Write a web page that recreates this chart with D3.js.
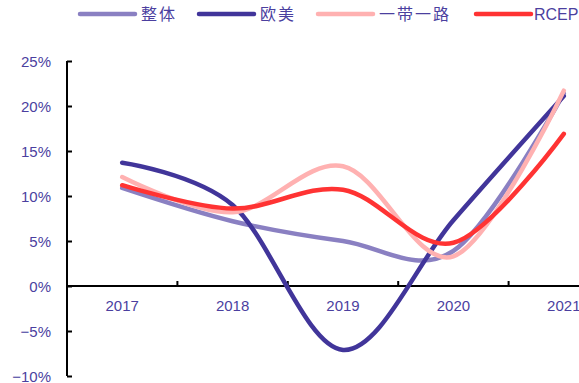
<!DOCTYPE html>
<html><head><meta charset="utf-8">
<script src="https://cdn.jsdelivr.net/npm/d3@7"></script>
<style>body{margin:0;background:#fff;overflow:hidden}svg{display:block}</style>
</head><body>
<svg id="c" width="579" height="383"></svg>
<script>
const categories = ["2017","2018","2019","2020","2021"];
const seriesNames = ["整体","欧美","一带一路","RCEP"];
const seriesColors = ["#8a80c2","#41359a","#ffb1b1","#ff3333"];
const valsOverall = [10.9, 7.2, 5.0, 3.9, 21.4];
const valsEuUs = [13.7, 9.0, -7.1, 7.3, 21.1];
const valsBelt = [12.1, 8.2, 13.3, 3.3, 21.7];
const valsRcep = [11.2, 8.6, 10.7, 4.8, 16.9];
const yTicks = [-10, -5, 0, 5, 10, 15, 20, 25];
const allVals = [valsOverall, valsEuUs, valsBelt, valsRcep];

const svg = d3.select("#c");
const x = d3.scaleBand().domain(categories).range([67, 619]);
const y = d3.scaleLinear().domain([-10, 25]).range([376, 61]);
const txt = "#4b3f9f";

// y axis
const ya = svg.append("g").attr("transform","translate(67,0)")
  .call(d3.axisLeft(y).tickValues(yTicks).tickSize(-5).tickPadding(0).tickFormat(d => (d < 0 ? "\u2212" + (-d) : d) + "%"));
ya.select(".domain").attr("stroke","#000").attr("stroke-width",2).attr("d","M0,"+y(25)+"V"+y(-10));
ya.selectAll(".tick line").attr("stroke","#000").attr("stroke-width",2);
ya.selectAll(".tick text").attr("x",-16).attr("fill",txt).attr("font-family","Liberation Sans, Arial, sans-serif").attr("font-size",15).attr("dy","0.35em");

// x axis
const xa = svg.append("g").attr("transform","translate(0,"+y(0)+")")
  .call(d3.axisBottom(x).tickSize(0).tickPadding(0));
xa.select(".domain").attr("stroke","#000").attr("stroke-width",2).attr("d","M67,0H579");
xa.selectAll(".tick text").attr("y",20).attr("dy","0.35em").attr("fill",txt).attr("font-family","Liberation Sans, Arial, sans-serif").attr("font-size",15);
// x ticks at band boundaries
svg.append("g").selectAll("line").data(categories.slice(1)).join("line")
  .attr("x1", d => x(d)).attr("x2", d => x(d))
  .attr("y1", y(0)).attr("y2", y(0)-5).attr("stroke","#000").attr("stroke-width",2);

// lines
const line = d3.line().x((d,i) => x(categories[i]) + x.bandwidth()/2).y(d => y(d)).curve(d3.curveCatmullRom.alpha(0));
const order = [0,1,2,3];
svg.append("g").selectAll("path").data(order).join("path")
  .attr("d", i => line(allVals[i])).attr("fill","none")
  .attr("stroke", i => seriesColors[i]).attr("stroke-width",4.5).attr("stroke-linecap","round");

// legend
const legX = [80, 199, 318, 476];
const lg = svg.append("g").selectAll("g").data(seriesNames).join("g")
  .attr("transform",(d,i)=>"translate("+legX[i]+",14)");
lg.append("line").attr("x1",0).attr("x2",55).attr("y1",0).attr("y2",0)
  .attr("stroke",(d,i)=>seriesColors[i]).attr("stroke-width",4.5).attr("stroke-linecap","round");
lg.append("text").attr("x",(d,i)=> i===3 ? 58 : 61).attr("y",0).attr("dy","0.35em")
  .attr("fill",txt).attr("font-size",16)
  .attr("font-family",(d,i)=> i===3 ? "Liberation Sans, Arial, sans-serif" : "Noto Sans CJK SC, sans-serif")
  .attr("letter-spacing",(d,i)=> i===3 ? 0 : 2)
  .text(d=>d);
</script>
</body></html>
